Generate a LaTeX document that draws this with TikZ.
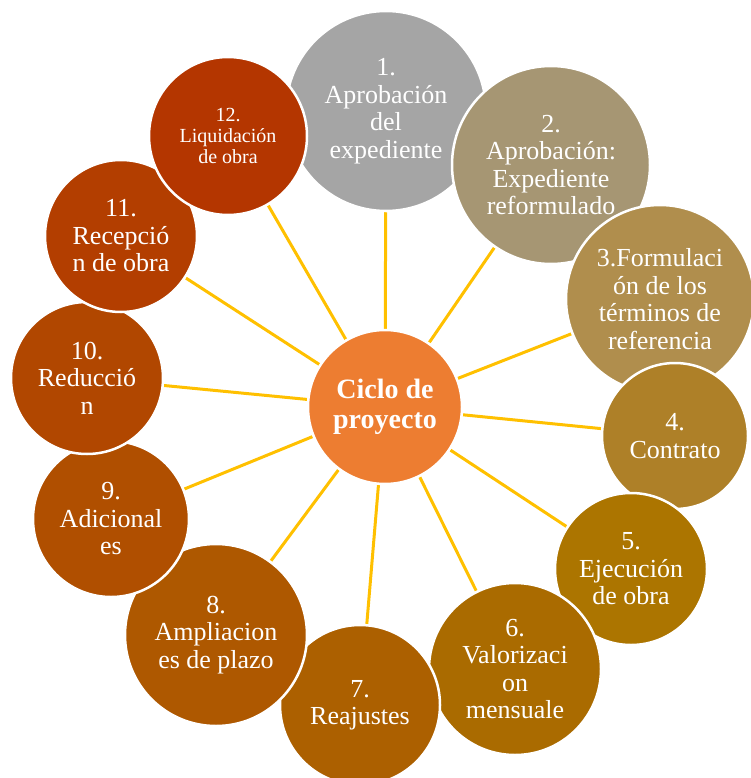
\documentclass[tikz,border=0pt]{standalone}
\usepackage{fontspec}
\setmainfont{Liberation Serif}
\usetikzlibrary{backgrounds}
\definecolor{cA}{HTML}{A5A5A5}
\definecolor{cB}{HTML}{A69673}
\definecolor{cC}{HTML}{B08E4D}
\definecolor{cD}{HTML}{AE8028}
\definecolor{cE}{HTML}{AC7500}
\definecolor{cF}{HTML}{AA6B00}
\definecolor{cG}{HTML}{AC6000}
\definecolor{cH}{HTML}{AE5800}
\definecolor{cI}{HTML}{B04F00}
\definecolor{cJ}{HTML}{B14700}
\definecolor{cK}{HTML}{B33E00}
\definecolor{cL}{HTML}{B43600}
\definecolor{cCenter}{HTML}{ED7D31}
\definecolor{conny}{HTML}{FFC000}
\begin{document}
\begin{tikzpicture}[x=1pt,y=-1pt,
  sat/.style={circle, draw=white, line width=2.5pt, inner sep=0pt, text=white,
    align=center, font=\fontsize{26}{27.5}\selectfont},
  conn/.style={draw=conny, line width=3pt}]
\useasboundingbox (0,0) rectangle (751,778);
\node[sat, fill=cA, minimum size=200pt] (n1) at (386,111) {1.\\Aprobación\\del\\expediente};
\node[sat, fill=cB, minimum size=198pt] (n2) at (551,165) {2.\\Aprobación:\\Expediente\\reformulado};
\node[sat, fill=cC, minimum size=188pt] (n3) at (660,299) {3.Formulaci\\ón de los\\términos de\\referencia};
\node[sat, fill=cD, minimum size=146pt] (n4) at (675,436) {4.\\Contrato};
\node[sat, fill=cE, minimum size=152pt] (n5) at (631,569) {5.\\Ejecución\\de obra};
\node[sat, fill=cF, minimum size=172pt] (n6) at (515,669) {6.\\Valorizaci\\on\\mensuale};
\node[sat, fill=cG, minimum size=160pt] (n7) at (360,705) {7.\\Reajustes};
\node[sat, fill=cH, minimum size=182pt] (n8) at (216,635) {8.\\Ampliacion\\es de plazo};
\node[sat, fill=cI, minimum size=156pt] (n9) at (111,519) {9.\\Adicional\\es};
\node[sat, fill=cJ, minimum size=152pt] (n10) at (87,378) {10.\\Reducció\\n};
\node[sat, fill=cK, minimum size=152pt] (n11) at (121,236) {11.\\Recepció\\n de obra};
\node[sat, fill=cL, minimum size=158pt, font=\fontsize{20}{21}\selectfont] (n12) at (228,136) {12.\\Liquidación\\de obra};
\node[sat, fill=cCenter, minimum size=154pt, font=\fontsize{28}{30}\selectfont\bfseries] (c) at (385,407) {Ciclo de\\proyecto};
\begin{scope}[on background layer]
\foreach \i in {1,...,12} { \draw[conn] (c) -- (n\i); }
\end{scope}
\end{tikzpicture}
\end{document}
